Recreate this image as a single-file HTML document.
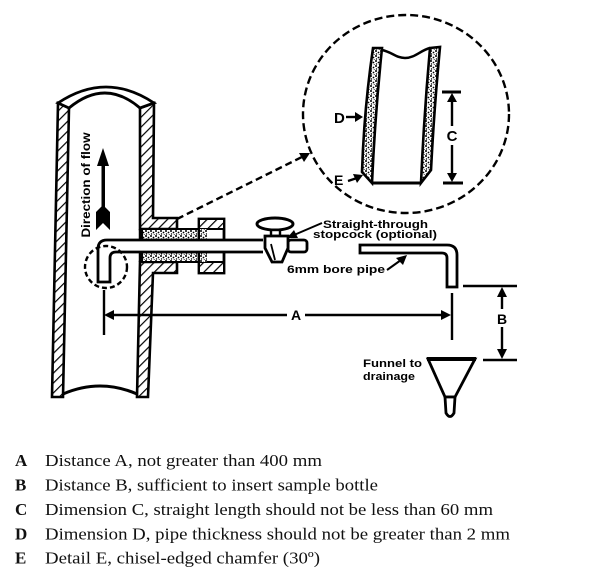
<!DOCTYPE html>
<html><head><meta charset="utf-8"><style>
html,body{margin:0;padding:0;background:#fff;}
svg{display:block;}
</style></head><body>
<svg width="605" height="587" viewBox="0 0 605 587" xmlns="http://www.w3.org/2000/svg">
<defs>
<pattern id="h" width="7" height="7" patternUnits="userSpaceOnUse" patternTransform="rotate(45)"><rect width="7" height="7" fill="#fff"/><line x1="0" y1="0" x2="0" y2="7" stroke="#000" stroke-width="2.4"/></pattern>
<pattern id="st" width="5" height="5" patternUnits="userSpaceOnUse"><rect width="5" height="5" fill="#fff"/><circle cx="1" cy="1" r="1" fill="#000"/><circle cx="3.5" cy="2.5" r="0.9" fill="#000"/><circle cx="1.5" cy="4" r="0.7" fill="#000"/><circle cx="4.2" cy="4.5" r="0.5" fill="#000"/></pattern>
</defs>
<rect width="605" height="587" fill="#fff"/>

<!-- main vertical pipe -->
<polygon points="58,103 69,108 63,397 52,397" fill="url(#h)" stroke="#000" stroke-width="2.6"/>
<polygon points="140,108 154,103 153,218 177,218 177,229 140,229" fill="url(#h)" stroke="#000" stroke-width="2.6"/>
<polygon points="140,262 177,262 177,273 153,273 148,397 137,397" fill="url(#h)" stroke="#000" stroke-width="2.6"/>
<path d="M58,103 Q106,71 154,103 L140,108 Q105,78 69,108 Z" fill="#fff" stroke="#000" stroke-width="2.8"/>
<path d="M63,394 Q100,378 137,394" fill="none" stroke="#000" stroke-width="3"/>
<line x1="140" y1="229" x2="140" y2="240" stroke="#000" stroke-width="2.5"/>
<line x1="140" y1="252" x2="140" y2="262" stroke="#000" stroke-width="2.5"/>

<!-- packing -->
<rect x="142" y="229" width="65" height="11" fill="url(#st)" stroke="#000" stroke-width="2"/>
<rect x="142" y="252" width="65" height="10" fill="url(#st)" stroke="#000" stroke-width="2"/>

<!-- nut -->
<rect x="199" y="219" width="25" height="54" fill="#fff" stroke="#000" stroke-width="2.8"/>
<rect x="199" y="219" width="25" height="10" fill="url(#h)" stroke="#000" stroke-width="2"/>
<rect x="199" y="262" width="25" height="11" fill="url(#h)" stroke="#000" stroke-width="2"/>
<rect x="200" y="229" width="7" height="11" fill="url(#st)"/>
<rect x="200" y="252" width="7" height="10" fill="url(#st)"/>

<!-- sample pipe with hook -->
<path d="M263,240 L107,240 Q98,240 98,249 L98,282 L110,282 L110,258 Q110,252 116,252 L263,252" fill="#fff" stroke="#000" stroke-width="2.8"/>

<!-- dashed circle around hook -->
<circle cx="106" cy="267" r="21" fill="none" stroke="#000" stroke-width="2.4" stroke-dasharray="5 3"/>

<!-- stopcock -->
<rect x="288" y="240" width="19" height="12" rx="3" fill="#fff" stroke="#000" stroke-width="2.8"/>
<ellipse cx="275" cy="224" rx="18" ry="6" fill="#fff" stroke="#000" stroke-width="3"/>
<rect x="271" y="230" width="9" height="6" fill="#fff" stroke="#000" stroke-width="2.4"/>
<path d="M265,236 L288,236 L288,248 L282,262 L272,262 L265,248 Z" fill="#fff" stroke="#000" stroke-width="2.8"/>
<line x1="271" y1="244" x2="275" y2="260" stroke="#000" stroke-width="1.8"/>

<!-- flow arrow -->
<rect x="101.5" y="160" width="3.5" height="58" fill="#000"/>
<polygon points="103,148 109,166 97,166" fill="#000"/>
<polygon points="103,205 110,212 110,230 103,223 96,230 96,212" fill="#000"/>
<text transform="translate(90,185) rotate(-90)" text-anchor="middle" font-family="Liberation Sans, Arial, sans-serif" font-weight="bold" font-size="12" textLength="105" lengthAdjust="spacingAndGlyphs">Direction of flow</text>

<!-- dashed leader to detail -->
<line x1="177" y1="219" x2="302" y2="157" stroke="#000" stroke-width="2.4" stroke-dasharray="7 4"/>
<polygon points="310,153 299,153 304,162" fill="#000"/>

<!-- detail circle -->
<ellipse cx="406" cy="114" rx="103" ry="99" fill="none" stroke="#000" stroke-width="2.4" stroke-dasharray="8 4"/>
<path d="M373,48 Q364,110 362,172 L372,183 Q375,115 382,48 Z" fill="url(#st)" stroke="#000" stroke-width="2.6"/>
<path d="M430,48 L440,47 Q434,110 431,170 L421,183 Q424,115 430,48 Z" fill="url(#st)" stroke="#000" stroke-width="2.6"/>
<line x1="372" y1="183" x2="421" y2="183" stroke="#000" stroke-width="3"/>
<path d="M382,50 C392,52 396,58 405,58 C415,58 421,50 430,48" fill="none" stroke="#000" stroke-width="2.5"/>
<!-- D -->
<text x="334" y="123" font-family="Liberation Sans, Arial, sans-serif" font-weight="bold" font-size="15">D</text>
<line x1="346" y1="117" x2="357" y2="117" stroke="#000" stroke-width="2.4"/>
<polygon points="355,112 363,117 355,122" fill="#000"/>
<!-- E -->
<text x="334" y="185" font-family="Liberation Sans, Arial, sans-serif" font-weight="bold" font-size="14">E</text>
<line x1="348" y1="181" x2="357" y2="178" stroke="#000" stroke-width="2.4"/>
<polygon points="353,174 363,175 357,183" fill="#000"/>
<!-- C -->
<line x1="442" y1="92" x2="461" y2="92" stroke="#000" stroke-width="3"/>
<line x1="443" y1="183" x2="463" y2="183" stroke="#000" stroke-width="3"/>
<line x1="452" y1="100" x2="452" y2="126" stroke="#000" stroke-width="2.4"/>
<line x1="452" y1="145" x2="452" y2="175" stroke="#000" stroke-width="2.4"/>
<polygon points="452,93 457,102 447,102" fill="#000"/>
<polygon points="452,182 457,173 447,173" fill="#000"/>
<text x="452" y="141" text-anchor="middle" font-family="Liberation Sans, Arial, sans-serif" font-weight="bold" font-size="15">C</text>

<!-- stopcock label -->
<text x="323" y="228" font-family="Liberation Sans, Arial, sans-serif" font-weight="bold" font-size="11" textLength="105" lengthAdjust="spacingAndGlyphs">Straight-through</text>
<text x="313" y="238" font-family="Liberation Sans, Arial, sans-serif" font-weight="bold" font-size="11" textLength="124" lengthAdjust="spacingAndGlyphs">stopcock (optional)</text>
<line x1="322" y1="223" x2="294" y2="235" stroke="#000" stroke-width="2"/>
<polygon points="287,238 294,230 298,238" fill="#000"/>

<!-- right pipe -->
<path d="M360,245 L447,245 Q457,245 457,255 L457,287 L447,287 L447,258 Q447,253 442,253 L360,253 Z" fill="#fff" stroke="#000" stroke-width="2.8"/>
<text x="287" y="273" font-family="Liberation Sans, Arial, sans-serif" font-weight="bold" font-size="11" textLength="98" lengthAdjust="spacingAndGlyphs">6mm bore pipe</text>
<line x1="387" y1="270" x2="401" y2="260" stroke="#000" stroke-width="2"/>
<polygon points="407,255 403,265 396,258" fill="#000"/>

<!-- A dimension -->
<line x1="104" y1="290" x2="104" y2="335" stroke="#000" stroke-width="2.4"/>
<line x1="452" y1="293" x2="452" y2="340" stroke="#000" stroke-width="2.4"/>
<line x1="110" y1="315" x2="287" y2="315" stroke="#000" stroke-width="2.4"/>
<line x1="305" y1="315" x2="445" y2="315" stroke="#000" stroke-width="2.4"/>
<polygon points="104,315 114,310 114,320" fill="#000"/>
<polygon points="451,315 441,310 441,320" fill="#000"/>
<text x="296" y="320" text-anchor="middle" font-family="Liberation Sans, Arial, sans-serif" font-weight="bold" font-size="14">A</text>

<!-- B dimension -->
<line x1="463" y1="286" x2="517" y2="286" stroke="#000" stroke-width="2.6"/>
<line x1="483" y1="360" x2="517" y2="360" stroke="#000" stroke-width="2.6"/>
<line x1="502" y1="294" x2="502" y2="309" stroke="#000" stroke-width="2.4"/>
<line x1="502" y1="327" x2="502" y2="352" stroke="#000" stroke-width="2.4"/>
<polygon points="502,287 507,297 497,297" fill="#000"/>
<polygon points="502,359 507,349 497,349" fill="#000"/>
<text x="502" y="324" text-anchor="middle" font-family="Liberation Sans, Arial, sans-serif" font-weight="bold" font-size="14">B</text>

<!-- funnel -->
<path d="M428,359 L475,359 L455,397 L445,397 Z" fill="#fff" stroke="#000" stroke-width="2.8"/>
<line x1="427" y1="359" x2="476" y2="359" stroke="#000" stroke-width="4"/>
<path d="M445,397 L455,397 L454,413 Q450,420 446,413 Z" fill="#fff" stroke="#000" stroke-width="2.8"/>
<text x="363" y="367" font-family="Liberation Sans, Arial, sans-serif" font-weight="bold" font-size="11" textLength="59" lengthAdjust="spacingAndGlyphs">Funnel to</text>
<text x="363" y="380" font-family="Liberation Sans, Arial, sans-serif" font-weight="bold" font-size="11" textLength="52" lengthAdjust="spacingAndGlyphs">drainage</text>

<!-- legend -->
<g font-family="Liberation Serif, Times New Roman, serif" font-size="17" fill="#111">
<text x="15" y="466" font-weight="bold">A</text>
<text x="45" y="466" textLength="277" lengthAdjust="spacingAndGlyphs">Distance A, not greater than 400 mm</text>
<text x="15" y="490.5" font-weight="bold">B</text>
<text x="45" y="490.5" textLength="333" lengthAdjust="spacingAndGlyphs">Distance B, sufficient to insert sample bottle</text>
<text x="15" y="515" font-weight="bold">C</text>
<text x="45" y="515" textLength="448" lengthAdjust="spacingAndGlyphs">Dimension C, straight length should not be less than 60 mm</text>
<text x="15" y="539.5" font-weight="bold">D</text>
<text x="45" y="539.5" textLength="465" lengthAdjust="spacingAndGlyphs">Dimension D, pipe thickness should not be greater than 2 mm</text>
<text x="15" y="563.5" font-weight="bold">E</text>
<text x="45" y="563.5" textLength="275" lengthAdjust="spacingAndGlyphs">Detail E, chisel-edged chamfer (30º)</text>
</g>
</svg>
</body></html>
